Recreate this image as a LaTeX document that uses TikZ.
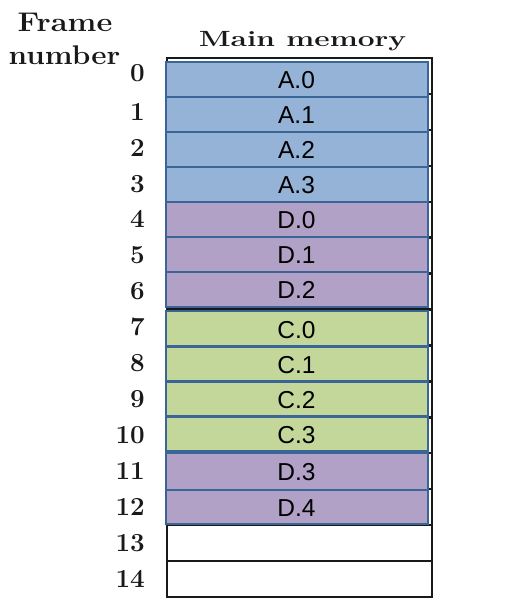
\documentclass[tikz,border=0pt]{standalone}
\usepackage{fontspec}
\newfontfamily\lab{Liberation Sans}
\definecolor{pblue}{HTML}{95B3D7}
\definecolor{ppurple}{HTML}{B2A1C7}
\definecolor{pgreen}{HTML}{C4D79B}
\definecolor{pborder}{HTML}{3B6596}
\tikzset{
  cell/.style={draw=black!90, line width=2.4pt},
  page/.style={draw=pborder, line width=2.3pt},
  pagetext/.style={font=\lab\fontsize{24.5}{26}\selectfont, inner sep=0pt, text=black},
  num/.style={font=\fontsize{26}{28}\selectfont\bfseries, inner sep=0pt, anchor=base east, text=black!90},
  head/.style={inner sep=0pt, text=black!90}
}
\begin{document}
\begin{tikzpicture}[x=1pt,y=-1pt]
\useasboundingbox (0,0) rectangle (514,614);
% frame grid
\foreach \k in {0,...,14}{
  \pgfmathsetmacro{\t}{58+\k*35.93}
  \pgfmathsetmacro{\b}{58+(\k+1)*35.93}
  \draw[cell] (167,\t) rectangle (432,\b);
  \pgfmathsetmacro{\c}{58+(\k+0.5)*35.93+8.3}
  \ifnum\k=0
    \node[num] (n\k) at (145,{\c-2.3}) {\k};
  \else
    \node[num] (n\k) at (145,\c) {\k};
  \fi
}
% pages
\foreach \name/\col/\t/\b in {A.0/pblue/61.7/96.7, A.1/pblue/96.7/131.7, A.2/pblue/131.7/166.7, A.3/pblue/166.7/201.7,
  D.0/ppurple/201.7/236.7, D.1/ppurple/236.7/271.7, D.2/ppurple/271.7/307,
  C.0/pgreen/311/346.5, C.1/pgreen/346.5/381.5, C.2/pgreen/381.5/416.5, C.3/pgreen/416.5/451.5,
  D.3/ppurple/453/490, D.4/ppurple/490/524}{
  \draw[page, fill=\col] (165.7,\t) rectangle (428.3,\b);
  \node[pagetext] (p\name) at (296.5,{(\t+\b)/2+1}) {\name};
}
% headings
\node[head, anchor=base, font=\fontsize{27}{29}\selectfont\bfseries] (h1) at (65,31.7) {\scalebox{1.14}[1]{Frame}};
\node[head, anchor=base, font=\fontsize{27}{29}\selectfont\bfseries] (h2) at (64.5,64) {\scalebox{1.1}[1]{number}};
\node[head, anchor=base, font=\fontsize{22}{24}\selectfont\bfseries] (h3) at (302.5,46) {\scalebox{1.36}[1]{Main memory}};
\end{tikzpicture}
\end{document}
